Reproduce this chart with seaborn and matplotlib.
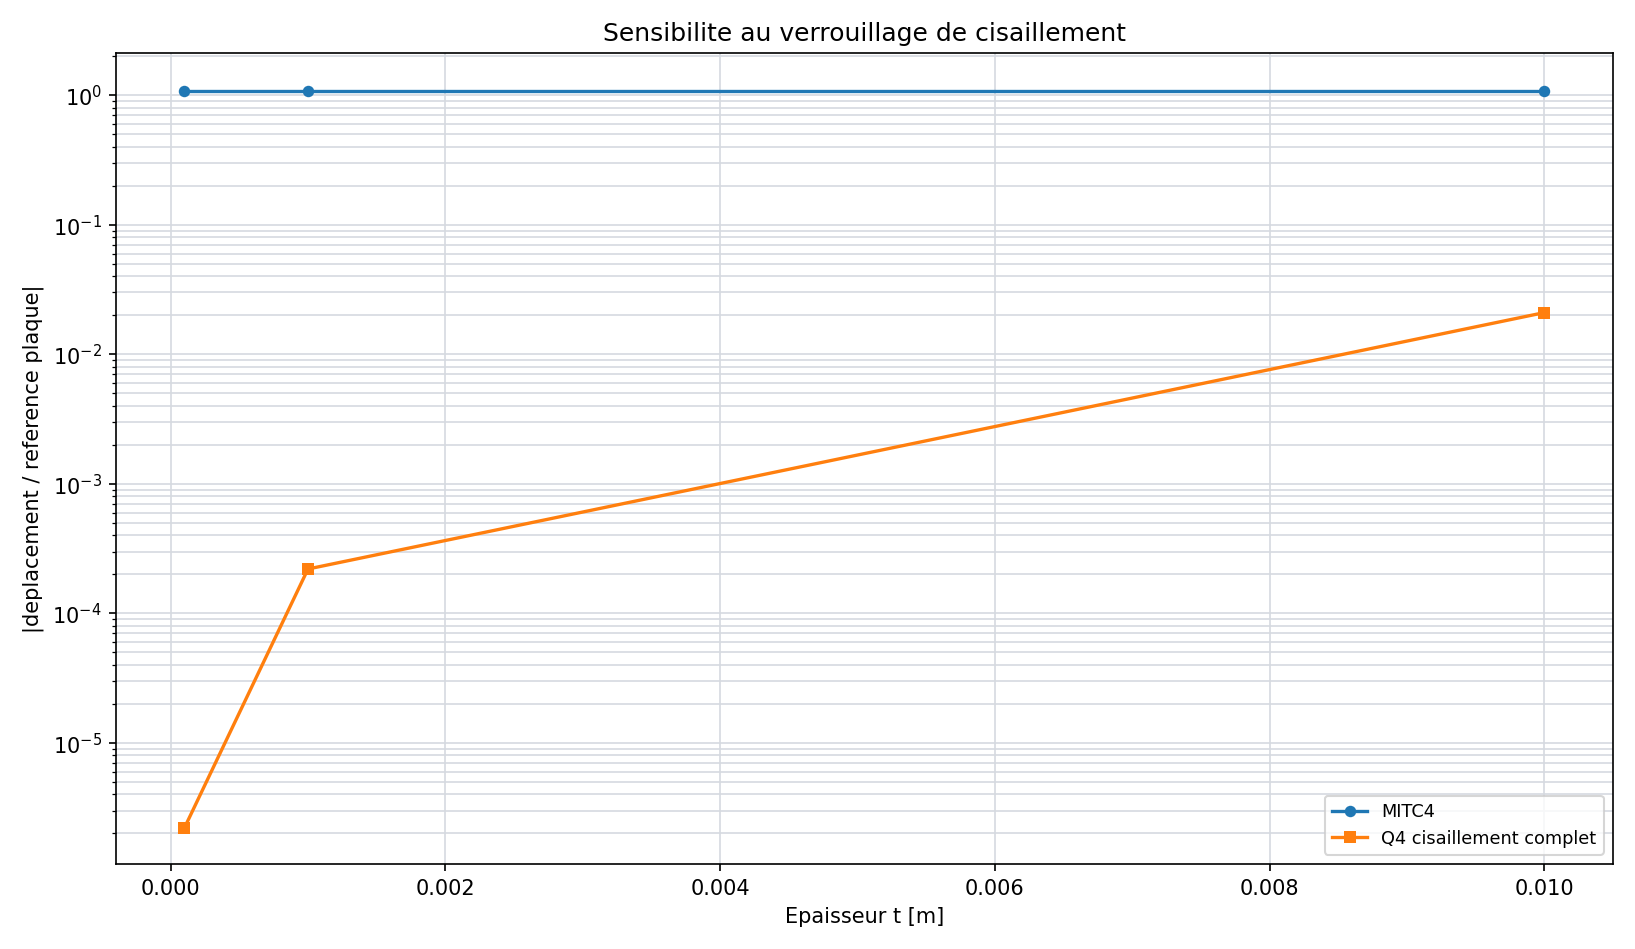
import matplotlib
matplotlib.use("Agg")
import matplotlib.pyplot as plt
import seaborn as sns
import pandas as pd

thickness = [0.0001, 0.001, 0.01]
mitc4 = [1.08, 1.08, 1.08]
q4_full = [2.2e-6, 2.2e-4, 2.1e-2]

df = pd.DataFrame({
    "t": thickness * 2,
    "ratio": mitc4 + q4_full,
    "element": ["MITC4"] * 3 + ["Q4 cisaillement complet"] * 3,
})

fig, ax = plt.subplots(figsize=(10.9, 6.33), dpi=150)
sns.lineplot(data=df, x="t", y="ratio", hue="element", style="element",
             markers=["o", "s"], dashes=False, markersize=5.5, linewidth=1.6,
             markeredgewidth=0, palette=["#1f77b4", "#ff7f0e"], ax=ax)
ax.set_yscale("log")
ax.grid(True, which="both", color="#d5d9e0", linewidth=0.8)
ax.set_axisbelow(True)
ax.set_xlabel("Epaisseur t [m]")
ax.set_ylabel("|deplacement / reference plaque|")
ax.set_title("Sensibilite au verrouillage de cisaillement")
ax.set_ylim(1.17e-6, 2.1)
ax.legend(loc="lower right", fontsize=8.5, title=None)
fig.tight_layout()
fig.savefig("out.png", dpi=150)
